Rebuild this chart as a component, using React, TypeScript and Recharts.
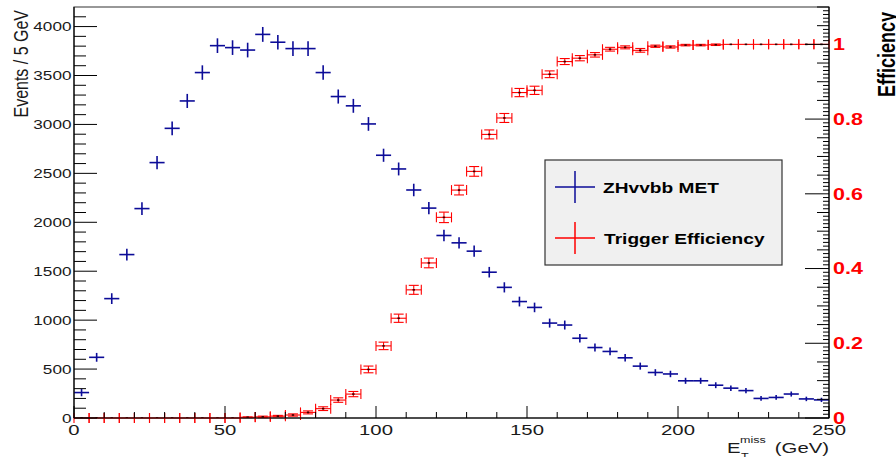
import { ScatterChart, Scatter, XAxis, YAxis, ErrorBar, ReferenceArea } from "recharts"

const binCenters = [
  2.5, 7.5, 12.5, 17.5, 22.5, 27.5, 32.5, 37.5, 42.5, 47.5,
  52.5, 57.5, 62.5, 67.5, 72.5, 77.5, 82.5, 87.5, 92.5, 97.5,
  102.5, 107.5, 112.5, 117.5, 122.5, 127.5, 132.5, 137.5, 142.5, 147.5,
  152.5, 157.5, 162.5, 167.5, 172.5, 177.5, 182.5, 187.5, 192.5, 197.5,
  202.5, 207.5, 212.5, 217.5, 222.5, 227.5, 232.5, 237.5, 242.5, 247.5,
]
const binHalfWidth = 2.5

// ZHvvbb MET, events per 5 GeV
const metEvents = [
  260, 620, 1220, 1670, 2140, 2610, 2960, 3240, 3530, 3805,
  3785, 3760, 3920, 3840, 3775, 3775, 3530, 3285, 3190, 3005,
  2685, 2545, 2330, 2145, 1865, 1790, 1705, 1490, 1335, 1190,
  1130, 970, 950, 815, 720, 680, 615, 530, 465, 450,
  380, 380, 335, 305, 280, 200, 210, 245, 195, 185,
]
const metErrors = [
  38, 45, 55, 60, 65, 68, 70, 72, 74, 75,
  75, 75, 76, 75, 75, 75, 74, 72, 71, 70,
  67, 66, 64, 62, 59, 58, 57, 54, 52, 50,
  49, 46, 46, 43, 41, 40, 38, 36, 34, 33,
  31, 31, 30, 28, 27, 24, 24, 26, 23, 22,
]

// trigger efficiency
const trigEff = [
  0, 0, 0, 0, 0, 0, 0, 0, 0, 0,
  0, 0.002, 0.003, 0.005, 0.008, 0.015, 0.025, 0.048, 0.064, 0.13,
  0.193, 0.267, 0.343, 0.415, 0.537, 0.61, 0.66, 0.759, 0.803, 0.871,
  0.877, 0.92, 0.954, 0.963, 0.972, 0.987, 0.992, 0.984, 0.995, 0.993,
  0.998, 0.998, 0.999, 1, 1, 1, 1, 1, 1, 1,
]
const trigErrors = [
  0, 0, 0, 0, 0, 0, 0, 0, 0, 0,
  0, 0.001, 0.002, 0.002, 0.003, 0.004, 0.005, 0.006, 0.007, 0.009,
  0.01, 0.011, 0.012, 0.013, 0.014, 0.013, 0.013, 0.012, 0.012, 0.011,
  0.011, 0.009, 0.008, 0.007, 0.006, 0.005, 0.004, 0.005, 0.003, 0.003,
  0.002, 0.002, 0.002, 0, 0, 0, 0, 0, 0, 0,
]

const xTicks = Array.from({ length: 26 }, (_, i) => i * 10)
const leftTicks = Array.from({ length: 42 }, (_, i) => i * 100)
const rightTicks = Array.from({ length: 111 }, (_, i) => i / 100)

const metData = binCenters.map((x, i) => ({ x, y: metEvents[i], ex: binHalfWidth, ey: metErrors[i] }))
const effData = binCenters.map((x, i) => ({ x, y: trigEff[i], ex: binHalfWidth, ey: trigErrors[i] }))

const BLUE = "#0c0c98"
const RED = "#ff0000"
const INK = "#1a1a1a"
const FONT = "'Liberation Sans', Arial, Helvetica, sans-serif"
const STRETCH = 1.32

function SText({ x, y, anchor = "start", size, weight = 400, fill = INK, rotate = false, children }: any) {
  const t = `translate(${x},${y}) scale(${STRETCH},1)${rotate ? " rotate(-90)" : ""}`
  return (
    <text transform={t} textAnchor={anchor} fontSize={size} fontWeight={weight} fill={fill} fontFamily={FONT}>
      {children}
    </text>
  )
}

function XTick({ x, y, payload }: any) {
  const v = payload.value
  const major = v % 50 === 0
  return (
    <g>
      <line x1={x} x2={x} y1={y} y2={y - (major ? 12 : 6)} stroke="#000" />
      {major && <SText x={x} y={y + 17} anchor="middle" size={15.4}>{v}</SText>}
    </g>
  )
}

function LeftTick({ x, y, payload }: any) {
  const v = payload.value
  const major = v % 500 === 0
  return (
    <g>
      <line x1={x} x2={x + (major ? 23 : 12)} y1={y} y2={y} stroke="#000" />
      {major && <SText x={x - 2.5} y={y + 4.6} anchor="end" size={13}>{v}</SText>}
    </g>
  )
}

function RightTick({ x, y, payload }: any) {
  const i = Math.round(payload.value * 100)
  const major = i % 20 === 0
  const len = major ? 24 : i % 5 === 0 ? 12 : 6
  const label = i === 0 ? "0" : i === 100 ? "1" : (i / 100).toFixed(1)
  return (
    <g>
      <line x1={x} x2={x - len} y1={y} y2={y} stroke="#000" />
      {major && (
        <SText x={x + 4} y={y + 5.8} size={16.3} weight={700} fill={RED}>{label}</SText>
      )}
    </g>
  )
}

const noMarker = () => <g />
const effMarker = (p: any) => <rect x={p.cx - 1.2} y={p.cy - 0.8} width={2.4} height={1.6} fill="#300" />

export default function App() {
  return (
    <div style={{ position: "absolute", left: 0, top: 0, width: 896, height: 457, background: "#fff" }}>
      <ScatterChart width={896} height={457} margin={{ top: 7, right: 0, bottom: 0, left: 0 }}>
        <XAxis
          xAxisId="x" dataKey="x" type="number" domain={[0, 250]} ticks={xTicks} interval={0}
          height={39} tickSize={0} tickMargin={0} tickLine={false} tick={<XTick />}
          axisLine={{ stroke: "#000" }}
        />
        <YAxis
          yAxisId="left" dataKey="y" type="number" domain={[0, 4200]} ticks={leftTicks} interval={0}
          width={74} tickSize={0} tickMargin={0} tickLine={false} tick={<LeftTick />}
          axisLine={{ stroke: "#000" }} allowDataOverflow
        />
        <YAxis
          yAxisId="right" orientation="right" dataKey="y" type="number" domain={[0, 1.1]} ticks={rightTicks}
          interval={0} width={67} tickSize={0} tickMargin={0} tickLine={false} tick={<RightTick />}
          axisLine={{ stroke: "#000" }} allowDataOverflow
        />
        <ReferenceArea
          xAxisId="x" yAxisId="left" x1={0} x2={250} y1={0} y2={4200}
          fill="none" stroke="#333" strokeWidth={1.2}
        />
        <Scatter data={metData} xAxisId="x" yAxisId="left" fill={BLUE} shape={noMarker} isAnimationActive={false}>
          <ErrorBar dataKey="ex" direction="x" width={0} stroke={BLUE} strokeWidth={1.6} isAnimationActive={false} />
          <ErrorBar dataKey="ey" direction="y" width={0} stroke={BLUE} strokeWidth={1.6} isAnimationActive={false} />
        </Scatter>
        <Scatter data={effData} xAxisId="x" yAxisId="right" fill={RED} shape={effMarker} isAnimationActive={false}>
          <ErrorBar dataKey="ex" direction="x" width={5} stroke={RED} strokeWidth={1.1} isAnimationActive={false} />
          <ErrorBar dataKey="ey" direction="y" width={5} stroke={RED} strokeWidth={1.1} isAnimationActive={false} />
        </Scatter>
      </ScatterChart>

      <svg width={896} height={457} style={{ position: "absolute", left: 0, top: 0, pointerEvents: "none" }}>
        <SText x={28} y={10} anchor="end" size={16} rotate>Events / 5 GeV</SText>
        <SText x={895} y={12} anchor="end" size={18} weight={700} fill="#000" rotate>Efficiency</SText>

        <SText x={727} y={453} size={15.4}>E</SText>
        <SText x={740} y={443} size={9.5}>miss</SText>
        <SText x={741} y={459} size={9.5}>T</SText>
        <SText x={829} y={453} anchor="end" size={15.4}>(GeV)</SText>

        <rect x={545} y={160} width={237} height={105} fill="#f0f0f0" stroke="#333" strokeWidth={1.2} />
        <line x1={555} x2={595} y1={187} y2={187} stroke={BLUE} strokeWidth={1.5} />
        <line x1={575} x2={575} y1={171} y2={203} stroke={BLUE} strokeWidth={1.5} />
        <SText x={603} y={192.5} size={14.5} weight={700} fill="#000">ZHvvbb MET</SText>
        <line x1={555} x2={595} y1={238} y2={238} stroke={RED} strokeWidth={1.5} />
        <line x1={575} x2={575} y1={222} y2={254} stroke={RED} strokeWidth={1.5} />
        <SText x={604} y={243.5} size={14.5} weight={700} fill="#000">Trigger Efficiency</SText>
      </svg>
    </div>
  )
}
